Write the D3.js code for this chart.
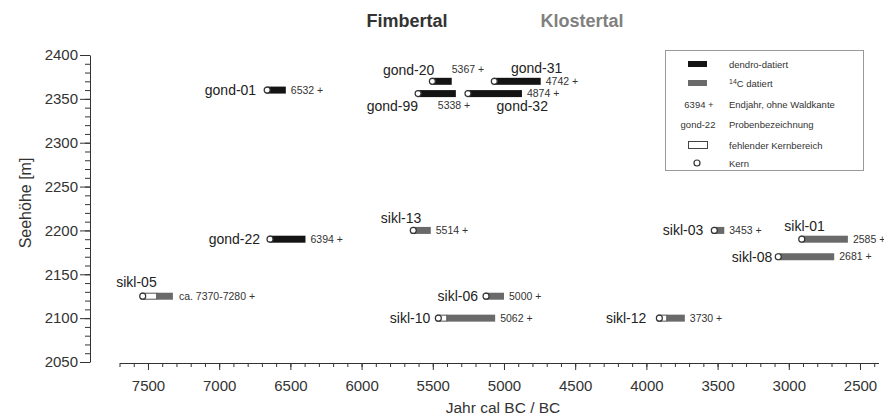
<!DOCTYPE html>
<html>
<head>
<meta charset="utf-8">
<script src="https://cdn.jsdelivr.net/npm/d3@7"></script>
<style>
  body { margin: 0; background: #fff; }
  svg { font-family: "Liberation Sans", Arial, sans-serif; }
</style>
</head>
<body>
<div id="chart"></div>
<script>
// sample data
var samples   = ["gond-01", "gond-20", "gond-31", "gond-99", "gond-32", "gond-22", "sikl-05",
                 "sikl-13", "sikl-06", "sikl-10", "sikl-03", "sikl-01", "sikl-08", "sikl-12"];
var method    = ["dendro", "dendro", "dendro", "dendro", "dendro", "dendro", "14C",
                 "14C", "14C", "14C", "14C", "14C", "14C", "14C"];
var elevation = [2360, 2370, 2370, 2356, 2356, 2190, 2125, 2200, 2125, 2100, 2200, 2190, 2170, 2100];
var pithYear  = [6670, 5510, 5075, 5610, 5260, 6650, 7544, 5644, 5133, 5468, 3530, 2916, 3081, 3916];
var missingTo = [null, null, null, null, null, null, 7439, null, null, 5402, null, null, null, 3857];
var endYear   = [6532, 5367, 4742, 5338, 4874, 6394, 7325, 5514, 5000, 5062, 3453, 2585, 2681, 3730];
var endLabel  = ["6532 +", "5367 +", "4742 +", "5338 +", "4874 +", "6394 +", "ca. 7370-7280 +",
                 "5514 +", "5000 +", "5062 +", "3453 +", "2585 +", "2681 +", "3730 +"];

var xMajor = d3.range(7500, 2499, -500);
var yMajor = d3.range(2050, 2401, 50);

// label offsets (px) relative to the pith point / the bar end
var nameOffset = [[-10, 5], [3, -6], [69, -8], [1, 17], [81, 17], [-9, 5], [15, -9],
                  [9, -7], [-7, 5], [-7, 5], [-10, 5], [24, -8], [-5, 5], [-12, 5]];
var endOffset  = [[5, 3.5], [0, -8.5], [5, 3.5], [-18, 15.5], [5, 3.5], [5, 3.5], [6, 3.5],
                  [5, 3.5], [5, 3.5], [5, 3.5], [5, 3.5], [5, 3.5], [5, 3.5], [5, 3.5]];

var width = 884, height = 417;
var barH = 7;

var svg = d3.select("#chart").append("svg")
    .attr("width", width)
    .attr("height", height);

var x = d3.scaleLinear().domain([7700, 2370]).range([119.5, 878.5]);
var y = d3.scaleLinear().domain([2050, 2400]).range([362, 55]);

// x axis: minor + major ticks
svg.append("g")
    .attr("transform", "translate(0,363)")
    .call(d3.axisBottom(x).tickValues(d3.range(7700, 2369, -100)).tickSize(4).tickSizeOuter(0).tickFormat(""))
    .call(g => g.selectAll("path,line").attr("stroke", "#333"));

var xAxis = svg.append("g")
    .attr("transform", "translate(0,363)")
    .call(d3.axisBottom(x).tickValues(xMajor).tickSize(7).tickSizeOuter(0).tickPadding(10).tickFormat(d3.format("d")));
xAxis.select(".domain").remove();
xAxis.selectAll("line").attr("stroke", "#333");
xAxis.selectAll("text").attr("font-size", 15).attr("fill", "#333").attr("font-family", null);

// y axis
svg.append("g")
    .attr("transform", "translate(90,0)")
    .call(d3.axisLeft(y).tickValues(d3.range(2050, 2401, 10)).tickSize(5).tickSizeOuter(0).tickFormat(""))
    .call(g => g.selectAll("path,line").attr("stroke", "#333"));

var yAxis = svg.append("g")
    .attr("transform", "translate(90,0)")
    .call(d3.axisLeft(y).tickValues(yMajor).tickSize(10).tickSizeOuter(0).tickPadding(2).tickFormat(d3.format("d")));
yAxis.select(".domain").remove();
yAxis.selectAll("line").attr("stroke", "#333");
yAxis.selectAll("text").attr("font-size", 15).attr("fill", "#333").attr("font-family", null);

// axis titles
svg.append("text")
    .attr("x", 503).attr("y", 413)
    .attr("text-anchor", "middle")
    .attr("font-size", 15.5).attr("fill", "#333")
    .text("Jahr cal BC / BC");

svg.append("text")
    .attr("transform", "translate(31,203) rotate(-90)")
    .attr("text-anchor", "middle")
    .attr("font-size", 16).attr("fill", "#333")
    .text("Seehöhe [m]");

// valley titles
svg.append("text")
    .attr("x", 407).attr("y", 27)
    .attr("text-anchor", "middle")
    .attr("font-size", 18).attr("font-weight", "bold").attr("fill", "#333")
    .text("Fimbertal");

svg.append("text")
    .attr("x", 582).attr("y", 27)
    .attr("text-anchor", "middle")
    .attr("font-size", 18).attr("font-weight", "bold").attr("fill", "#808080")
    .text("Klostertal");

var fillFor = { dendro: "#141414", "14C": "#6a6a6a" };

var rows = samples.map(function(s, i) {
    return { name: s, method: method[i], elev: elevation[i], pith: pithYear[i],
             missing: missingTo[i], end: endYear[i], label: endLabel[i],
             no: nameOffset[i], eo: endOffset[i] };
});

var bars = svg.append("g").selectAll("g")
    .data(rows)
    .enter()
    .append("g");

// measured part
bars.append("rect")
    .attr("x", d => x(d.missing != null ? d.missing : d.pith))
    .attr("y", d => y(d.elev) - barH / 2)
    .attr("width", d => x(d.end) - x(d.missing != null ? d.missing : d.pith))
    .attr("height", barH)
    .attr("fill", d => fillFor[d.method]);

// missing core part
bars.filter(d => d.missing != null).append("rect")
    .attr("x", d => x(d.pith))
    .attr("y", d => y(d.elev) - barH / 2 + 0.5)
    .attr("width", d => x(d.missing) - x(d.pith))
    .attr("height", barH - 1)
    .attr("fill", "#fff")
    .attr("stroke", "#555")
    .attr("stroke-width", 1);

// pith
bars.append("circle")
    .attr("cx", d => x(d.pith) + 1)
    .attr("cy", d => y(d.elev))
    .attr("r", 3)
    .attr("fill", "#fff")
    .attr("stroke", "#333")
    .attr("stroke-width", 1.2);

bars.append("text")
    .attr("x", d => x(d.pith) + d.no[0])
    .attr("y", d => y(d.elev) + d.no[1])
    .attr("text-anchor", "end")
    .attr("font-size", 14).attr("fill", "#222")
    .text(d => d.name);

bars.append("text")
    .attr("x", d => x(d.end) + d.eo[0])
    .attr("y", d => y(d.elev) + d.eo[1])
    .attr("font-size", 10.5).attr("fill", "#333")
    .text(d => d.label);

// legend
var legend = svg.append("g");
legend.append("rect")
    .attr("x", 665.5).attr("y", 50.5).attr("width", 198).attr("height", 120)
    .attr("fill", "#fff").attr("stroke", "#999");

var legY = [64, 83, 104, 124, 145, 163];
var legText = ["dendro-datiert", "C datiert", "Endjahr, ohne Waldkante", "Probenbezeichnung",
               "fehlender Kernbereich", "Kern"];

legend.append("rect").attr("x", 688).attr("y", legY[0] - 3).attr("width", 19).attr("height", 6).attr("fill", fillFor.dendro);
legend.append("rect").attr("x", 688).attr("y", legY[1] - 3).attr("width", 19).attr("height", 6).attr("fill", fillFor["14C"]);
legend.append("text").attr("x", 699).attr("y", legY[2] + 3.5).attr("text-anchor", "middle")
    .attr("font-size", 9.5).attr("fill", "#333").text("6394 +");
legend.append("text").attr("x", 698).attr("y", legY[3] + 3.5).attr("text-anchor", "middle")
    .attr("font-size", 9.5).attr("fill", "#333").text("gond-22");
legend.append("rect").attr("x", 688.5).attr("y", legY[4] - 3.5).attr("width", 19).attr("height", 7)
    .attr("fill", "#fff").attr("stroke", "#444");
legend.append("circle").attr("cx", 697).attr("cy", legY[5]).attr("r", 3)
    .attr("fill", "#fff").attr("stroke", "#333").attr("stroke-width", 1.2);

legText.forEach(function(t, i) {
    var tx = legend.append("text")
        .attr("x", 729).attr("y", legY[i] + 3.5)
        .attr("font-size", 9.5).attr("fill", "#333");
    if (i === 1) {
        tx.append("tspan").attr("font-size", 7).attr("dy", -3).text("14");
        tx.append("tspan").attr("dy", 3).text(t);
    } else {
        tx.text(t);
    }
});
</script>
</body>
</html>
